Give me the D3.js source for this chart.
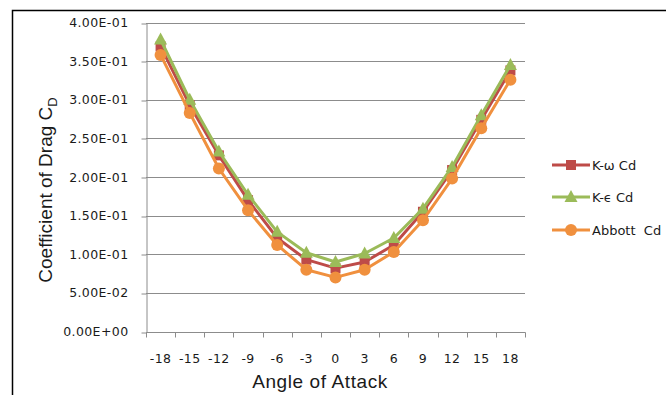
<!DOCTYPE html>
<html>
<head>
<meta charset="utf-8">
<script src="https://cdn.jsdelivr.net/npm/d3@7"></script>
<style>
  html, body { margin: 0; padding: 0; background: #fff; }
  svg { display: block; }
  .legend-label { white-space: pre; }
</style>
</head>
<body>
<svg id="chart" width="666" height="395"></svg>
<script>
// Angle of attack categories (degrees)
const angles = [-18, -15, -12, -9, -6, -3, 0, 3, 6, 9, 12, 15, 18];

// Drag coefficient per model
const kOmegaCd  = [0.369, 0.293, 0.228, 0.170, 0.121, 0.093, 0.082, 0.090, 0.112, 0.155, 0.209, 0.274, 0.338];
const kEpsCd    = [0.378, 0.300, 0.233, 0.177, 0.129, 0.102, 0.090, 0.101, 0.121, 0.159, 0.213, 0.280, 0.345];
const abbottCd  = [0.358, 0.283, 0.211, 0.157, 0.112, 0.080, 0.070, 0.080, 0.103, 0.144, 0.198, 0.263, 0.326];

const yTicks = [0, 0.05, 0.10, 0.15, 0.20, 0.25, 0.30, 0.35, 0.40];
const yTickLabels = ["0.00E+00", "5.00E-02", "1.00E-01", "1.50E-01", "2.00E-01", "2.50E-01", "3.00E-01", "3.50E-01", "4.00E-01"];

const seriesNames = ["K-\u03c9 Cd", "K-\u03f5 Cd", "Abbott  Cd"];

const series = [
  { name: seriesNames[0], values: kOmegaCd, color: "#BE4B48", marker: "square" },
  { name: seriesNames[1], values: kEpsCd,   color: "#9BBB59", marker: "triangle" },
  { name: seriesNames[2], values: abbottCd, color: "#F0903E", marker: "circle" }
];

const svg = d3.select("#chart");
const font = "'Liberation Sans', Arial, sans-serif";
const tickFont = "'DejaVu Sans', Verdana, sans-serif";

// Chart frame
svg.append("path")
  .attr("d", "M12.5,395 L12.5,10.5 L666,10.5")
  .attr("fill", "none")
  .attr("stroke", "#000")
  .attr("stroke-width", 1.5);

const plot = { left: 146, right: 525, top: 22.5, bottom: 331.5 };

const x = d3.scaleBand()
  .domain(angles)
  .range([plot.left, plot.right])
  .paddingInner(0).paddingOuter(0);

const y = d3.scaleLinear()
  .domain([0, 0.4])
  .range([plot.bottom, plot.top]);

// Horizontal gridlines
svg.append("g")
  .selectAll("line")
  .data(yTicks.filter(d => d > 0))
  .join("line")
  .attr("x1", plot.left).attr("x2", plot.right)
  .attr("y1", d => Math.round(y(d)) + 0.5)
  .attr("y2", d => Math.round(y(d)) + 0.5)
  .attr("stroke", "#8c8c8c")
  .attr("stroke-width", 1);

// Y axis
const yAxis = d3.axisLeft(y)
  .tickValues(yTicks)
  .tickFormat((d, i) => yTickLabels[i])
  .tickSizeInner(5)
  .tickSizeOuter(0)
  .tickPadding(13);

const gy = svg.append("g")
  .attr("transform", `translate(${plot.left + 0.5},0)`)
  .call(yAxis);
gy.select(".domain").attr("stroke", "#8c8c8c");
gy.selectAll(".tick line").attr("stroke", "#8c8c8c")
  .attr("transform", d => `translate(0,${Math.round(y(d)) + 0.5 - y(d)})`);
gy.selectAll(".tick text")
  .attr("font-family", tickFont)
  .attr("font-size", 12.5)
  .attr("letter-spacing", 0.4)
  .attr("fill", "#1a1a1a");

// X axis: ticks sit between categories, labels centred on each band
const gx = svg.append("g")
  .attr("transform", `translate(0,${Math.round(plot.bottom) + 0.5})`);
gx.append("line")
  .attr("x1", plot.left).attr("x2", plot.right + 0.5)
  .attr("stroke", "#8c8c8c");
const tickPositions = angles.map(a => x(a)).concat([x(angles[angles.length - 1]) + x.bandwidth()]);
gx.selectAll("line.tk")
  .data(tickPositions)
  .join("line")
  .attr("class", "tk")
  .attr("x1", d => Math.round(d) + 0.5).attr("x2", d => Math.round(d) + 0.5)
  .attr("y1", 0).attr("y2", 5)
  .attr("stroke", "#8c8c8c");
gx.selectAll("text")
  .data(angles)
  .join("text")
  .attr("x", d => x(d) + x.bandwidth() / 2)
  .attr("y", 30)
  .attr("text-anchor", "middle")
  .attr("font-family", tickFont)
  .attr("font-size", 12.5)
  .attr("letter-spacing", 0.4)
  .attr("fill", "#1a1a1a")
  .text(d => d);

// Axis titles
svg.append("text")
  .attr("x", 320)
  .attr("y", 388)
  .attr("text-anchor", "middle")
  .attr("font-family", font)
  .attr("font-size", 19)
  .attr("letter-spacing", 0.6)
  .attr("fill", "#1a1a1a")
  .text("Angle of Attack");

const yTitle = svg.append("text")
  .attr("transform", "translate(52,190) rotate(-90)")
  .attr("text-anchor", "middle")
  .attr("font-family", font)
  .attr("font-size", 19)
  .attr("fill", "#1a1a1a");
yTitle.append("tspan").text("Coefficient of Drag C");
yTitle.append("tspan").attr("font-size", 13).attr("dy", 5).text("D");

// Marker drawing helper
function drawMarker(g, type, color, cx, cy) {
  if (type === "square") {
    g.append("rect")
      .attr("x", cx - 5).attr("y", cy - 5)
      .attr("width", 10).attr("height", 10)
      .attr("fill", color);
  } else if (type === "triangle") {
    g.append("path")
      .attr("d", `M${cx},${cy - 7} L${cx + 6.5},${cy + 5} L${cx - 6.5},${cy + 5} Z`)
      .attr("fill", color);
  } else {
    g.append("circle")
      .attr("cx", cx).attr("cy", cy).attr("r", 6)
      .attr("fill", color);
  }
}

const line = d3.line()
  .x((d, i) => x(angles[i]) + x.bandwidth() / 2)
  .y(d => y(d));

series.forEach(s => {
  const g = svg.append("g");
  g.append("path")
    .datum(s.values)
    .attr("d", line)
    .attr("fill", "none")
    .attr("stroke", s.color)
    .attr("stroke-width", 3)
    .attr("stroke-linejoin", "round");
  s.values.forEach((v, i) => {
    drawMarker(g, s.marker, s.color, x(angles[i]) + x.bandwidth() / 2, y(v));
  });
});

// Legend
const legendY = [165, 197, 230];
series.forEach((s, i) => {
  const g = svg.append("g");
  g.append("line")
    .attr("x1", 552).attr("x2", 590)
    .attr("y1", legendY[i]).attr("y2", legendY[i])
    .attr("stroke", s.color).attr("stroke-width", 3);
  drawMarker(g, s.marker, s.color, 571, legendY[i]);
  g.append("text")
    .attr("class", "legend-label")
    .attr("x", 592)
    .attr("y", legendY[i] + 5)
    .attr("font-family", tickFont)
    .attr("font-size", 13)
    .attr("fill", "#1a1a1a")
    .text(s.name);
});
</script>
</body>
</html>
